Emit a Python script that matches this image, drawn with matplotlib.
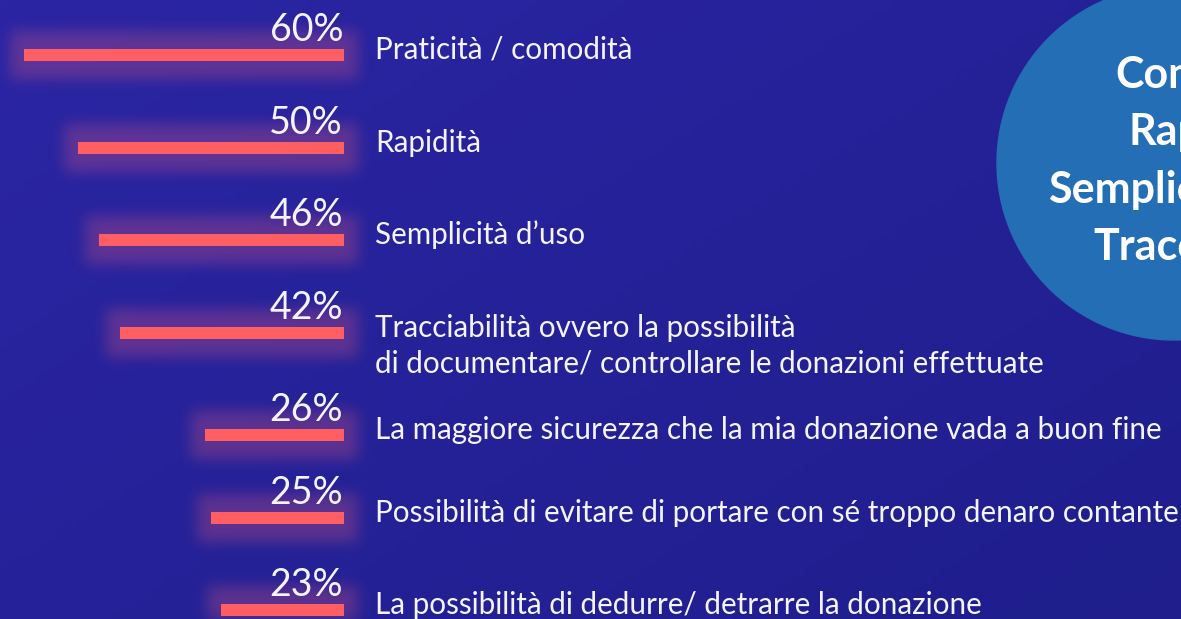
import numpy as np
import matplotlib
matplotlib.use('Agg')
import matplotlib.pyplot as plt
from matplotlib.patches import Circle

plt.rcParams['font.family'] = ['Lato', 'DejaVu Sans']

# data
labels = ['Praticità / comodità',
          'Rapidità',
          'Semplicità d\u2019uso',
          'Tracciabilità ovvero la possibilità\ndi documentare/ controllare le donazioni effettuate',
          'La maggiore sicurezza che la mia donazione vada a buon fine',
          'Possibilità di evitare di portare con sé troppo denaro contante',
          'La possibilità di dedurre/ detrarre la donazione']
values = [60, 50, 46, 42, 26, 25, 23]
circle_words = ['Comodità', 'Rapidità', 'Semplicità', 'Tracciabilità']

# layout (pixels)
W, H = 1181, 619
row_y = [55, 148, 240, 333, 435, 518, 610]
x0 = 344          # right end of bars
px_per_pct = 5.33

BAR = '#ff5f63'
TXT = '#f4f4fa'


def blur(a, sigma):
    r = int(3 * sigma)
    k = np.exp(-0.5 * (np.arange(-r, r + 1) / sigma) ** 2)
    k /= k.sum()
    a = np.apply_along_axis(lambda m: np.convolve(m, k, mode='same'), 0, a)
    a = np.apply_along_axis(lambda m: np.convolve(m, k, mode='same'), 1, a)
    return a


class Glow:
    # agg filter: replaces the drawn shape by a blurred, tinted copy
    def __init__(self, sigma, alpha, color):
        self.sigma = sigma
        self.alpha = alpha
        self.color = matplotlib.colors.to_rgb(color)

    def __call__(self, im, dpi):
        pad = int(3 * self.sigma) + 2
        src = np.pad(im, [(pad, pad), (pad, pad), (0, 0)])
        out = np.zeros_like(src)
        out[..., :3] = self.color
        out[..., 3] = np.clip(blur(src[..., 3], self.sigma) * self.alpha, 0, 1)
        return out, -pad, -pad


fig = plt.figure(figsize=(W / 100, H / 100), dpi=100)

# background + circle
bg = fig.add_axes([0, 0, 1, 1])
bg.set_xlim(0, W)
bg.set_ylim(H, 0)
bg.axis('off')
gx, gy = np.meshgrid(np.linspace(0, 1, 200), np.linspace(0, 1, 100))
t = np.clip(0.55 * gx + 0.45 * gy, 0, 1)[..., None]
c1 = np.array([43, 37, 164]) / 255
c2 = np.array([31, 30, 140]) / 255
bg.imshow(c1 * (1 - t) + c2 * t, extent=(0, W, H, 0), aspect='auto', zorder=0)
bg.add_patch(Circle((1174, 163), 177, color='#236eb5', zorder=1))
word_x = [1115, 1128, 1048, 1093]
for i, w in enumerate(circle_words):
    bg.text(word_x[i], 88 + i * 57.5, w, color='white', fontsize=31,
            fontweight='bold', ha='left', va='baseline', zorder=2)

# bars
ax = fig.add_axes([0, 0, 1, 1], zorder=2)
ax.patch.set_alpha(0)
ax.set_xlim(x0 / px_per_pct, -(W - x0) / px_per_pct)
ax.set_ylim(H, 0)
ax.axis('off')

pad = 14 / px_per_pct
glow = ax.barh(row_y, [v + 2 * pad for v in values], left=-pad, height=48,
               color=BAR)
for p in glow:
    p.set_agg_filter(Glow(7, 0.27, '#f4607a'))

ax.barh(row_y, values, height=12, color=BAR, zorder=3)

for y, v, lab in zip(row_y, values, labels):
    ax.annotate(f'{v}%', xy=(0, y), xytext=(-1, 14), textcoords='offset pixels',
                ha='right', va='baseline', color=TXT, fontsize=27, zorder=4)
    for k, line in enumerate(lab.split('\n')):
        ax.annotate(line, xy=(0, y), xytext=(31, -4 - 36 * k),
                    textcoords='offset pixels', ha='left', va='baseline',
                    color=TXT, fontsize=21.3, zorder=4)

fig.savefig('out.png', dpi=100)
